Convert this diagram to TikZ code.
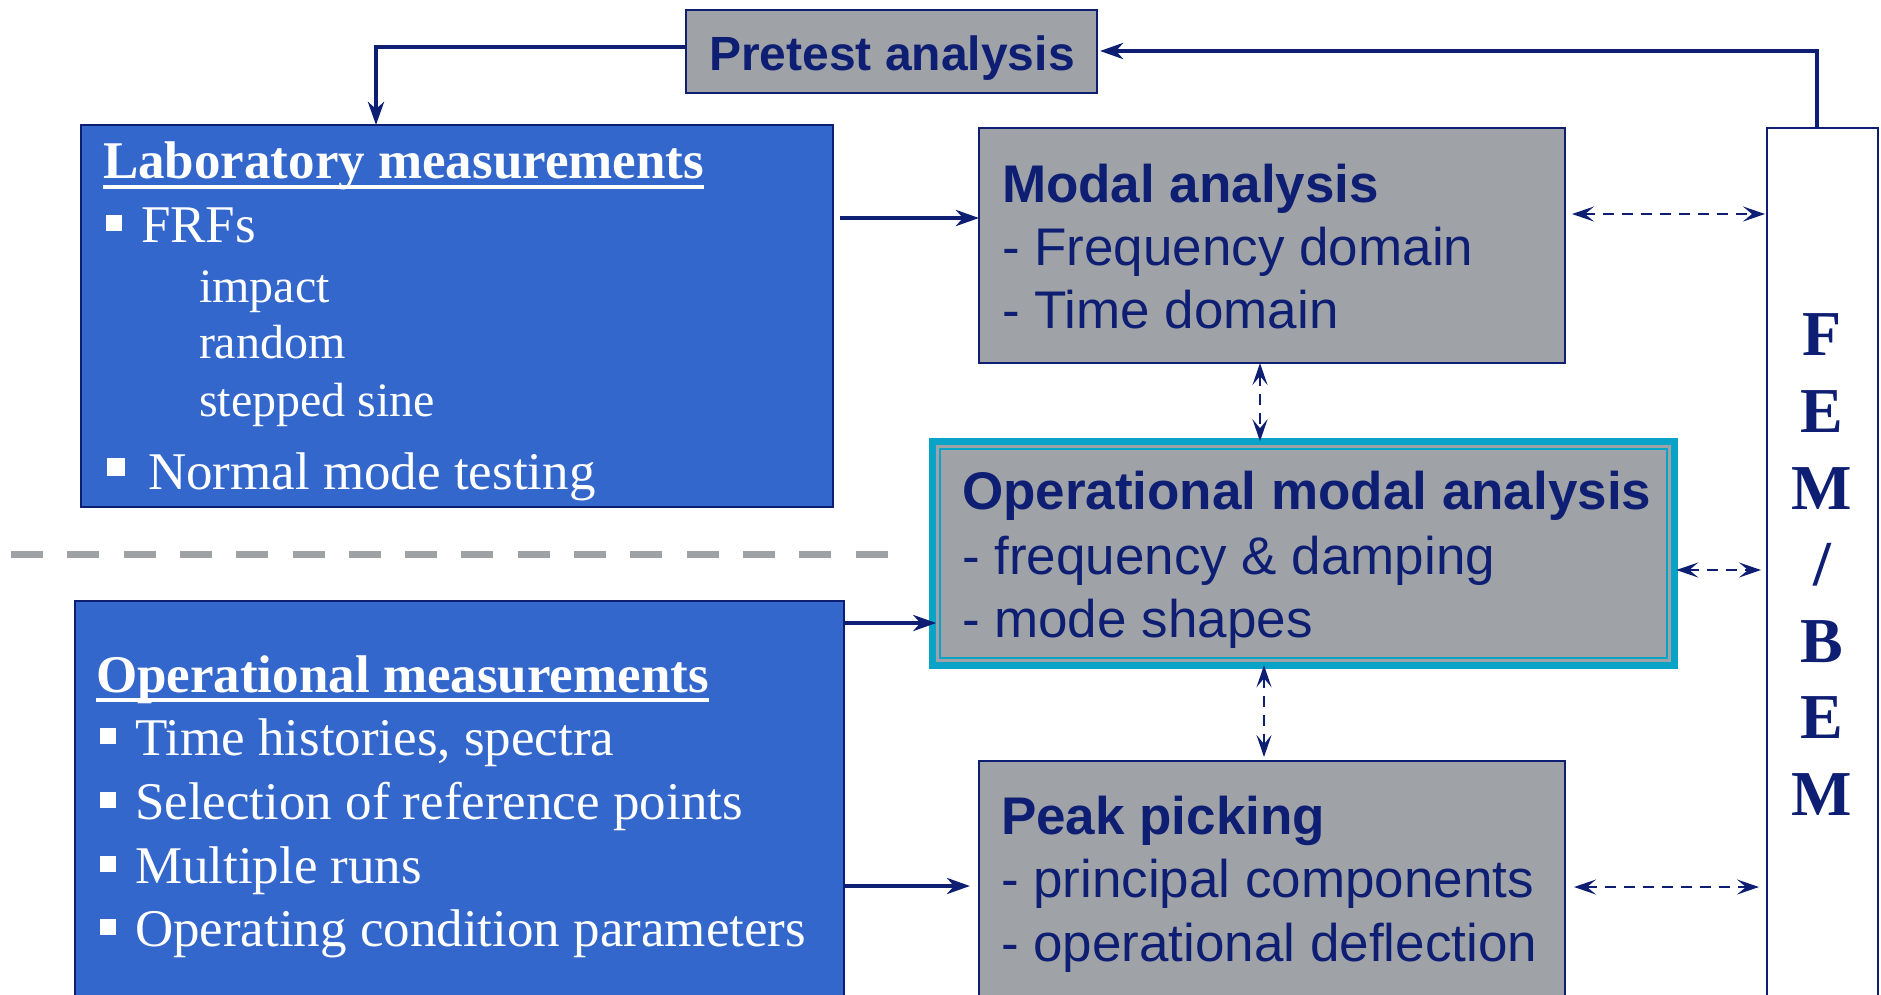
\documentclass[tikz,border=0pt]{standalone}
\usepackage{fontspec}
\setmainfont{Liberation Serif}
\newfontfamily\arialfont{Liberation Sans}
\usetikzlibrary{arrows.meta}

\definecolor{navy}{RGB}{14,31,115}
\definecolor{boxblue}{RGB}{52,103,204}
\definecolor{boxgray}{RGB}{159,163,167}
\definecolor{omacyan}{RGB}{10,163,200}
\definecolor{sepgray}{RGB}{158,162,165}

\begin{document}
\begin{tikzpicture}[x=1pt,y=-1pt,
  every node/.style={inner sep=0pt, outer sep=0pt},
  box/.style={draw=navy, line width=2.5pt, anchor=north west, rectangle},
  bluebox/.style={box, fill=boxblue},
  graybox/.style={box, fill=boxgray},
  whitebox/.style={box, fill=white},
  sanstitle/.style={anchor=base west, text=navy, font=\arialfont\bfseries\fontsize{53}{63}\selectfont},
  sansline/.style={anchor=base west, text=navy, font=\arialfont\fontsize{53}{63}\selectfont},
  seriftitle/.style={anchor=base west, text=white, font=\bfseries\fontsize{53}{63}\selectfont},
  serifline/.style={anchor=base west, text=white, font=\fontsize{53}{63}\selectfont},
  serifsub/.style={anchor=base west, text=white, font=\fontsize{48}{58}\selectfont},
  femletter/.style={anchor=base, text=navy, font=\bfseries\fontsize{64}{70}\selectfont},
  arr/.style={draw=navy, line width=4.5pt, -{Stealth[length=23pt,width=16pt,inset=7pt]}},
  darr/.style={draw=navy, line width=2.6pt, dash pattern=on 11pt off 8pt,
    {Stealth[length=22pt,width=15pt,inset=9pt]}-{Stealth[length=22pt,width=15pt,inset=9pt]}},
  uline/.style={white, line width=4pt}
  ]

\path[use as bounding box] (0,0) rectangle (1881,994);
\clip (0,0) rectangle (1881,994);

% ---------- boxes ----------
\node[graybox, minimum width=411pt, minimum height=83pt] (pre) at (686,10) {};
\node[bluebox, minimum width=752pt, minimum height=382pt] (lab) at (81,125) {};
\node[bluebox, minimum width=769pt, minimum height=420pt] (opm) at (75,601) {};
\node[graybox, minimum width=586pt, minimum height=235pt] (modal) at (979,128) {};
\node[graybox, minimum width=586pt, minimum height=260pt] (peak) at (979,761) {};
\node[whitebox, minimum width=111pt, minimum height=900pt] (fem) at (1767,128) {};

% operational modal analysis: double cyan frame
\node[anchor=north west, fill=boxgray, draw=omacyan, line width=6.5pt,
      minimum width=742pt, minimum height=224pt] (oma) at (932.25,441.25) {};
\draw[omacyan, line width=2.5pt]
  ([xshift=7.5pt,yshift=-7.5pt]oma.north west) rectangle ([xshift=-7.5pt,yshift=7.5pt]oma.south east);

% ---------- separator ----------
\draw[sepgray, line width=7pt, dash pattern=on 32pt off 24.3pt] (11,554) -- (908,554);

% ---------- texts ----------
\node[anchor=base, text=navy, font=\arialfont\bfseries\fontsize{48}{58}\selectfont] (pretxt) at (892,70) {Pretest analysis};

\node[seriftitle] (labtitle) at (103,178) {Laboratory measurements};
\draw[uline] ([yshift=-8.5pt]labtitle.base west) -- ([yshift=-8.5pt]labtitle.base east);
\fill[white] (106,215) rectangle (122,231);
\node[serifline] (frf) at (141,242) {FRFs};
\node[serifsub] (imp) at (199,302) {impact};
\node[serifsub] (rnd) at (199,358) {random};
\node[serifsub] (ssn) at (199,416) {stepped sine};
\fill[white] (107,458) rectangle (125,476);
\node[serifline] (nmt) at (148,489) {Normal mode testing};

\node[seriftitle] (opmtitle) at (96,692) {Operational measurements};
\draw[uline] ([yshift=-8pt]opmtitle.base west) -- ([yshift=-8pt]opmtitle.base east);
\foreach \yb/\txt [count=\i] in {755/{Time histories, spectra},
                                  819/{Selection of reference points},
                                  883/{Multiple runs},
                                  946/{Operating condition parameters}} {
  \fill[white] (100,\yb-27) rectangle (116,\yb-11);
  \node[serifline] (opitem\i) at (135,\yb) {\txt};
}

\node[sanstitle] (modtitle) at (1002,202) {Modal analysis};
\node[sansline] (mod1) at (1002,265) {- Frequency domain};
\node[sansline] (mod2) at (1002,328) {- Time domain};

\node[sanstitle] (omatitle) at (962,509) {Operational modal analysis};
\node[sansline] (oma1) at (962,574) {- frequency \& damping};
\node[sansline] (oma2) at (962,637) {- mode shapes};

\node[sanstitle] (pktitle) at (1001,834) {Peak picking};
\node[sansline] (pk1) at (1001,897) {- principal components};
\node[sansline] (pk2) at (1001,961) {- operational deflection};

% FEM / BEM, one character per row
\node[femletter] (fem1) at (1822,355) {F};
\node[femletter] (fem2) at (1822,432) {E};
\node[femletter] (fem3) at (1822,509) {M};
\node[femletter] (fem4) at (1822,585) {/};
\node[femletter] (fem5) at (1822,662) {B};
\node[femletter] (fem6) at (1822,738) {E};
\node[femletter] (fem7) at (1822,815) {M};

% ---------- connectors ----------
\draw[arr] (pre.west |- 0,47) -| (376,0 |- lab.north);
\draw[arr] (1817,0 |- fem.north) |- ([xshift=3pt]pre.east |- 0,51);
\draw[arr] ([xshift=7pt]lab.east |- 0,218) -- (modal.west |- 0,218);
\draw[arr] ([xshift=1pt]opm.east |- 0,623) -- ([xshift=4pt]oma.west |- 0,623);
\draw[arr] ([xshift=1pt]opm.east |- 0,886) -- ([xshift=-9pt]peak.west |- 0,886);

\draw[darr] ([xshift=7pt]modal.east |- 0,214) -- ([xshift=-2pt]fem.west |- 0,214);
\draw[darr] ([xshift=2pt]oma.east |- 0,570) -- ([xshift=-6pt]fem.west |- 0,570);
\draw[darr] ([xshift=9pt]peak.east |- 0,887) -- ([xshift=-8pt]fem.west |- 0,887);
\draw[darr] (1260,0 |- modal.south) -- (1260,0 |- oma.north);
\draw[darr] (1264,0 |- oma.south) -- ([yshift=4pt]1264,0 |- peak.north);

\end{tikzpicture}
\end{document}
